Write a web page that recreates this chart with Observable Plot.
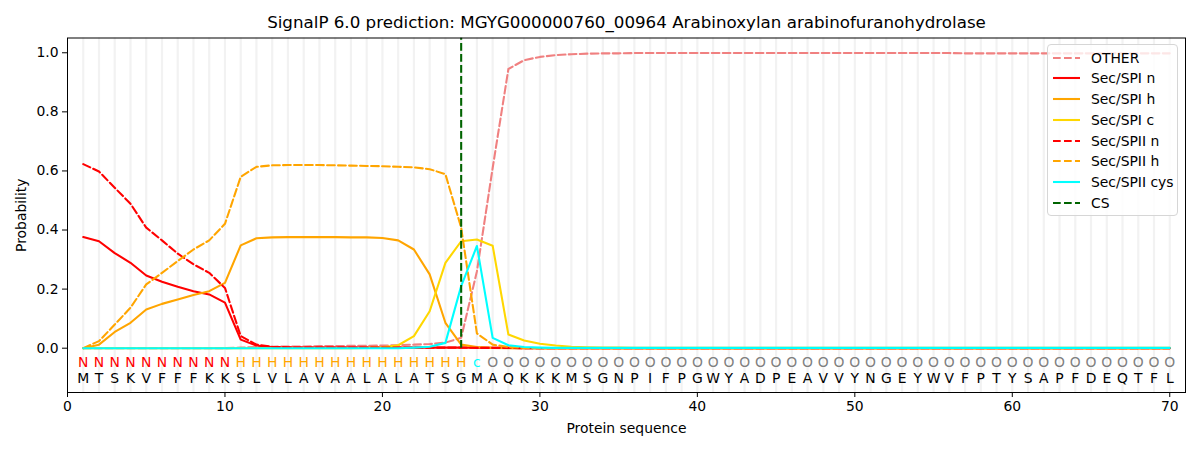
<!DOCTYPE html>
<html><head><meta charset="utf-8">
<script src="https://cdn.jsdelivr.net/npm/d3@7"></script>
<script src="https://cdn.jsdelivr.net/npm/@observablehq/plot@0.6"></script>
<style>
body{margin:0;background:#fff;font-family:"DejaVu Sans",sans-serif;}
#wrap{position:relative;width:1200px;height:450px;overflow:hidden;}
#legend{position:absolute;left:1047px;top:44px;width:131px;height:172px;box-sizing:border-box;border:1px solid #d6d6d6;border-radius:4px;background:rgba(255,255,255,0.8);font-size:13.9px;}
.lrow{position:absolute;left:0;height:20px;width:130px;}
.lrow svg{position:absolute;left:4px;top:0;}
.lrow span{position:absolute;left:43px;top:1px;line-height:18px;white-space:nowrap;color:#000;}
</style></head><body><div id="wrap"></div>
<script>
const title = "SignalP 6.0 prediction: MGYG000000760_00964 Arabinoxylan arabinofuranohydrolase";
const sequence = "MTSKVFFFKKSLVLAVAALALATSGMAQKKKMSGNPIFPGWYADPEAVVYNGEYWVFPTYSAPFDEQTFL".split("");
const regionLabels = ("NNNNNNNNNN" + "HHHHHHHHHHHHHHH" + "c" + "OOOOOOOOOOO" + "OOOOOOOOOOO" + "OOOOOOOOOOO" + "OOOOOOOOOOO").split("");
const regionColors = {N: "red", H: "orange", c: "cyan", O: "gray"};
const csPosition = 25;
const xTicks = [0, 10, 20, 30, 40, 50, 60, 70];
const yTicks = [0, 0.2, 0.4, 0.6, 0.8, 1.0];

const other = [0,0,0,0,0,0,0,0,0,0,
  0.002,0.004,0.005,0.006,0.006,0.007,0.007,0.008,0.008,0.009,
  0.010,0.012,0.014,0.019,0.035,0.26,0.61,0.945,0.975,0.986,
  0.992,0.995,0.997,0.998,0.998,0.999,0.999,0.999,0.999,0.999,
  0.999,0.999,0.999,0.999,0.999,0.999,0.999,0.999,0.999,0.999,
  0.999,0.999,0.999,0.999,0.999,0.999,0.998,0.998,0.998,0.998,
  0.998,0.998,0.998,0.998,0.998,0.998,0.998,0.998,0.998,0.998];
const spiN = [0.376,0.362,0.322,0.289,0.246,0.225,0.208,0.193,0.182,0.154,
  0.029,0.009,0.003,0.002,0.002,0.002,0.002,0.002,0.002,0.002,
  0.002,0.002,0.002,0.002,0.002,0.002,0.001,0.001,0,0,
  0,0,0,0,0,0,0,0,0,0,
  0,0,0,0,0,0,0,0,0,0,
  0,0,0,0,0,0,0,0,0,0,
  0,0,0,0,0,0,0,0,0,0];
const spiH = [0.0,0.012,0.055,0.086,0.131,0.150,0.165,0.180,0.193,0.221,
  0.348,0.372,0.375,0.376,0.376,0.376,0.376,0.375,0.375,0.373,
  0.365,0.334,0.250,0.086,0.012,0.004,0.001,0,0,0,
  0,0,0,0,0,0,0,0,0,0,
  0,0,0,0,0,0,0,0,0,0,
  0,0,0,0,0,0,0,0,0,0,
  0,0,0,0,0,0,0,0,0,0];
const spiC = [0,0,0,0,0,0,0,0,0,0,
  0,0,0,0,0,0,0,0,0.001,0.003,
  0.010,0.041,0.125,0.289,0.362,0.368,0.347,0.046,0.026,0.015,
  0.009,0.005,0.003,0.002,0.002,0.001,0.001,0.001,0.001,0.001,
  0.001,0.001,0.001,0.001,0.001,0.001,0.001,0.001,0.001,0.001,
  0.001,0.001,0.001,0.001,0.001,0.001,0.001,0.001,0.001,0.001,
  0.001,0.001,0.001,0.001,0.001,0.001,0.001,0.001,0.001,0.001];
const spiiN = [0.623,0.598,0.543,0.489,0.408,0.365,0.320,0.284,0.255,0.204,
  0.041,0.012,0.005,0.003,0.002,0.002,0.002,0.002,0.002,0.002,
  0.002,0.002,0.002,0.002,0.002,0.001,0.001,0.001,0,0,
  0,0,0,0,0,0,0,0,0,0,
  0,0,0,0,0,0,0,0,0,0,
  0,0,0,0,0,0,0,0,0,0,
  0,0,0,0,0,0,0,0,0,0];
const spiiH = [0.0,0.024,0.080,0.137,0.216,0.255,0.295,0.334,0.365,0.421,
  0.580,0.614,0.619,0.620,0.620,0.620,0.619,0.618,0.617,0.616,
  0.614,0.612,0.606,0.589,0.408,0.050,0.012,0.004,0.001,0,
  0,0,0,0,0,0,0,0,0,0,
  0,0,0,0,0,0,0,0,0,0,
  0,0,0,0,0,0,0,0,0,0,
  0,0,0,0,0,0,0,0,0,0];
const spiiCys = [0,0,0,0,0,0,0,0,0,0,
  0,0,0,0,0,0,0,0,0,0,
  0,0.002,0.005,0.018,0.210,0.346,0.035,0.010,0.004,0.002,
  0.001,0.001,0.001,0.001,0.001,0.001,0.001,0.001,0.001,0.001,
  0.001,0.001,0.001,0.001,0.001,0.001,0.001,0.001,0.001,0.001,
  0.001,0.001,0.001,0.001,0.001,0.001,0.001,0.001,0.001,0.001,
  0.001,0.001,0.001,0.001,0.001,0.001,0.001,0.001,0.001,0.001];

const DASH = "7.7,3.3";
const series = [
  {name: "OTHER", values: other, color: "#F08080", dash: DASH},
  {name: "Sec/SPI n", values: spiN, color: "red", dash: null},
  {name: "Sec/SPI h", values: spiH, color: "orange", dash: null},
  {name: "Sec/SPI c", values: spiC, color: "#FFD700", dash: null},
  {name: "Sec/SPII n", values: spiiN, color: "red", dash: DASH},
  {name: "Sec/SPII h", values: spiiH, color: "orange", dash: DASH},
  {name: "Sec/SPII cys", values: spiiCys, color: "cyan", dash: null}
];
const csEntry = {name: "CS", color: "darkgreen", dash: DASH};

const positions = sequence.map((d, i) => i + 1);

const chart = Plot.plot({
  width: 1200, height: 450,
  marginLeft: 67, marginRight: 15, marginTop: 37.5, marginBottom: 58,
  style: {fontFamily: "DejaVu Sans", fontSize: "13.9px", background: "white", color: "black"},
  x: {domain: [0, 71]},
  y: {domain: [-0.15, 1.05]},
  marks: [
    Plot.ruleX(positions, {x: d => d, stroke: "#f2f2f2", strokeWidth: 2.2}),
    ...series.map(s => Plot.line(s.values, {
      x: (d, i) => i + 1, y: d => d, stroke: s.color, strokeWidth: 2.08,
      strokeDasharray: s.dash ?? undefined, curve: "linear"
    })),
    Plot.ruleX([csPosition], {x: d => d, y1: 0, y2: 1.05, stroke: csEntry.color, strokeWidth: 2.08, strokeDasharray: csEntry.dash, clip: true}),
    Plot.text(regionLabels, {x: (d, i) => i + 1, y: -0.047, text: d => d, fill: d => regionColors[d], fontSize: 13.9}),
    Plot.text(sequence, {x: (d, i) => i + 1, y: -0.102, text: d => d, fill: "black", fontSize: 13.9}),
    Plot.frame({stroke: "black", strokeWidth: 1}),
    Plot.axisX({ticks: xTicks, tickSize: 5, tickPadding: 4, label: null, fontSize: 13.9}),
    Plot.axisY({ticks: yTicks, tickSize: 5, tickPadding: 4, tickFormat: d3.format(".1f"), label: null, fontSize: 13.9}),
    Plot.text([title], {frameAnchor: "top", lineAnchor: "middle", dy: -15.5, fontSize: 16.7, fill: "black"}),
    Plot.text(["Probability"], {frameAnchor: "left", textAnchor: "middle", lineAnchor: "middle", dx: -46, rotate: -90, fontSize: 13.9, fill: "black"}),
    Plot.text(["Protein sequence"], {frameAnchor: "bottom", lineAnchor: "middle", dy: 36, fontSize: 13.9, fill: "black"})
  ]
});
const wrap = document.getElementById("wrap");
wrap.appendChild(chart);

const legend = document.createElement("div");
legend.id = "legend";
[...series, csEntry].forEach((s, i) => {
  const row = document.createElement("div");
  row.className = "lrow";
  row.style.top = (2.7 + i * 20.7) + "px";
  row.innerHTML = `<svg width="30" height="20"><line x1="1" y1="10" x2="28" y2="10" stroke="${s.color}" stroke-width="2.08" ${s.dash ? `stroke-dasharray="${s.dash}"` : ""}/></svg><span>${s.name}</span>`;
  legend.appendChild(row);
});
wrap.appendChild(legend);
</script>
</body></html>
